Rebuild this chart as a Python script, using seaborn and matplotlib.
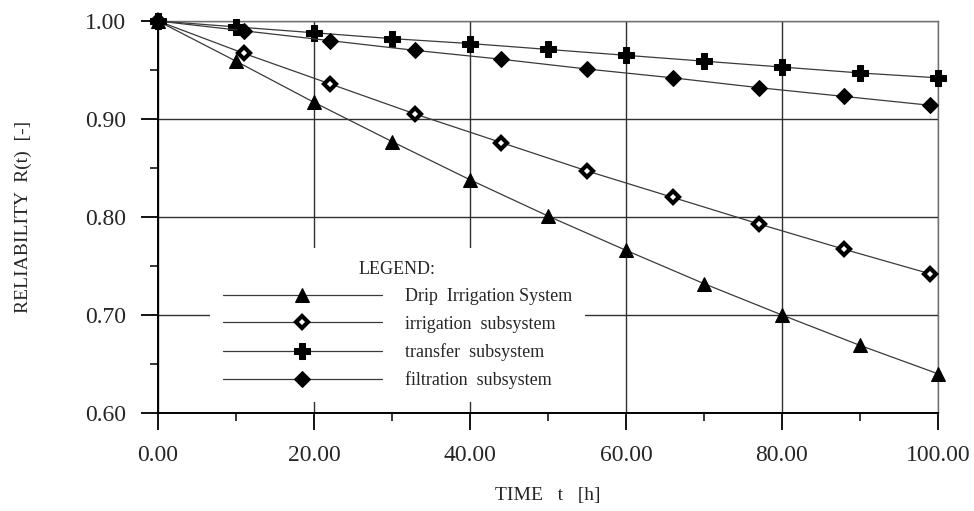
import numpy as np
import pandas as pd
import matplotlib
matplotlib.use("Agg")
import matplotlib.pyplot as plt
import seaborn as sns
from matplotlib.ticker import MultipleLocator, FormatStrFormatter

# time points [h]
t_a = [0, 10, 20, 30, 40, 50, 60, 70, 80, 90, 100]
t_b = [0, 11, 22, 33, 44, 55, 66, 77, 88, 99]

# reliability
drip = [1.00, 0.959, 0.917, 0.877, 0.838, 0.801, 0.766, 0.732, 0.700, 0.669, 0.640]
irrigation = [1.00, 0.967, 0.936, 0.905, 0.876, 0.847, 0.820, 0.793, 0.767, 0.742]
transfer = [1.00, 0.994, 0.988, 0.982, 0.977, 0.971, 0.965, 0.959, 0.953, 0.947, 0.942]
filtration = [1.00, 0.990, 0.980, 0.970, 0.961, 0.951, 0.942, 0.932, 0.923, 0.914]

labels = ["Drip  Irrigation System", "irrigation  subsystem",
          "transfer  subsystem", "filtration  subsystem"]

sns.set_style("white")
plt.rcParams["font.family"] = ["Liberation Serif", "DejaVu Serif"]

fig = plt.figure(figsize=(9.74, 5.11), dpi=100)
ax = fig.add_axes([0.1622, 0.1918, 0.8008, 0.7671])

line_col = "#3a3a3a"
common = dict(ax=ax, color=line_col, lw=0.9, zorder=3, clip_on=False)
sns.lineplot(x=t_a, y=drip, marker="^", ms=10,
             markerfacecolor="black", markeredgecolor="black", label=labels[0], **common)
sns.lineplot(x=t_b, y=irrigation, marker="D", ms=6.5,
             markerfacecolor="white", markeredgecolor="black", markeredgewidth=3.0,
             label=labels[1], **common)
sns.lineplot(x=t_a, y=transfer, marker="P", ms=11,
             markerfacecolor="black", markeredgecolor="black", label=labels[2], **common)
sns.lineplot(x=t_b, y=filtration, marker="D", ms=8.5,
             markerfacecolor="black", markeredgecolor="black", label=labels[3], **common)

ax.set_xlim(0, 100)
ax.set_ylim(0.60, 1.00)
ax.xaxis.set_major_locator(MultipleLocator(20))
ax.xaxis.set_minor_locator(MultipleLocator(10))
ax.yaxis.set_major_locator(MultipleLocator(0.1))
ax.yaxis.set_minor_locator(MultipleLocator(0.05))
ax.xaxis.set_major_formatter(FormatStrFormatter("%.2f"))
ax.yaxis.set_major_formatter(FormatStrFormatter("%.2f"))

ax.grid(True, which="major", color="#303030", lw=1.0, zorder=1)
ax.set_axisbelow(True)

for s in ["left", "bottom"]:
    ax.spines[s].set_color("black")
    ax.spines[s].set_linewidth(1.4)
for s in ["top", "right"]:
    ax.spines[s].set_color("#707070")
    ax.spines[s].set_linewidth(1.0)

ax.tick_params(which="major", direction="out", length=12, width=1.3, color="black",
               labelsize=17, pad=11, bottom=True, left=True)
ax.tick_params(which="minor", direction="out", length=6, width=1.1, color="black",
               bottom=True, left=True)

ax.set_xlabel("TIME   t   [h]", fontsize=14, labelpad=15)
ax.set_ylabel("RELIABILITY  R(t)  [-]", fontsize=14, labelpad=38)

leg = ax.legend(title="LEGEND:", loc="upper left", bbox_to_anchor=(0.0667, 0.421),
                borderaxespad=0, fontsize=13, title_fontsize=13, handlelength=8.8,
                handletextpad=1.3, labelspacing=0.58, borderpad=0.7,
                frameon=True, fancybox=False)
leg.get_frame().set_facecolor("white")
leg.get_frame().set_edgecolor("none")
leg.get_frame().set_alpha(1)
leg.set_zorder(2)

fig.savefig("out.png", dpi=100)
